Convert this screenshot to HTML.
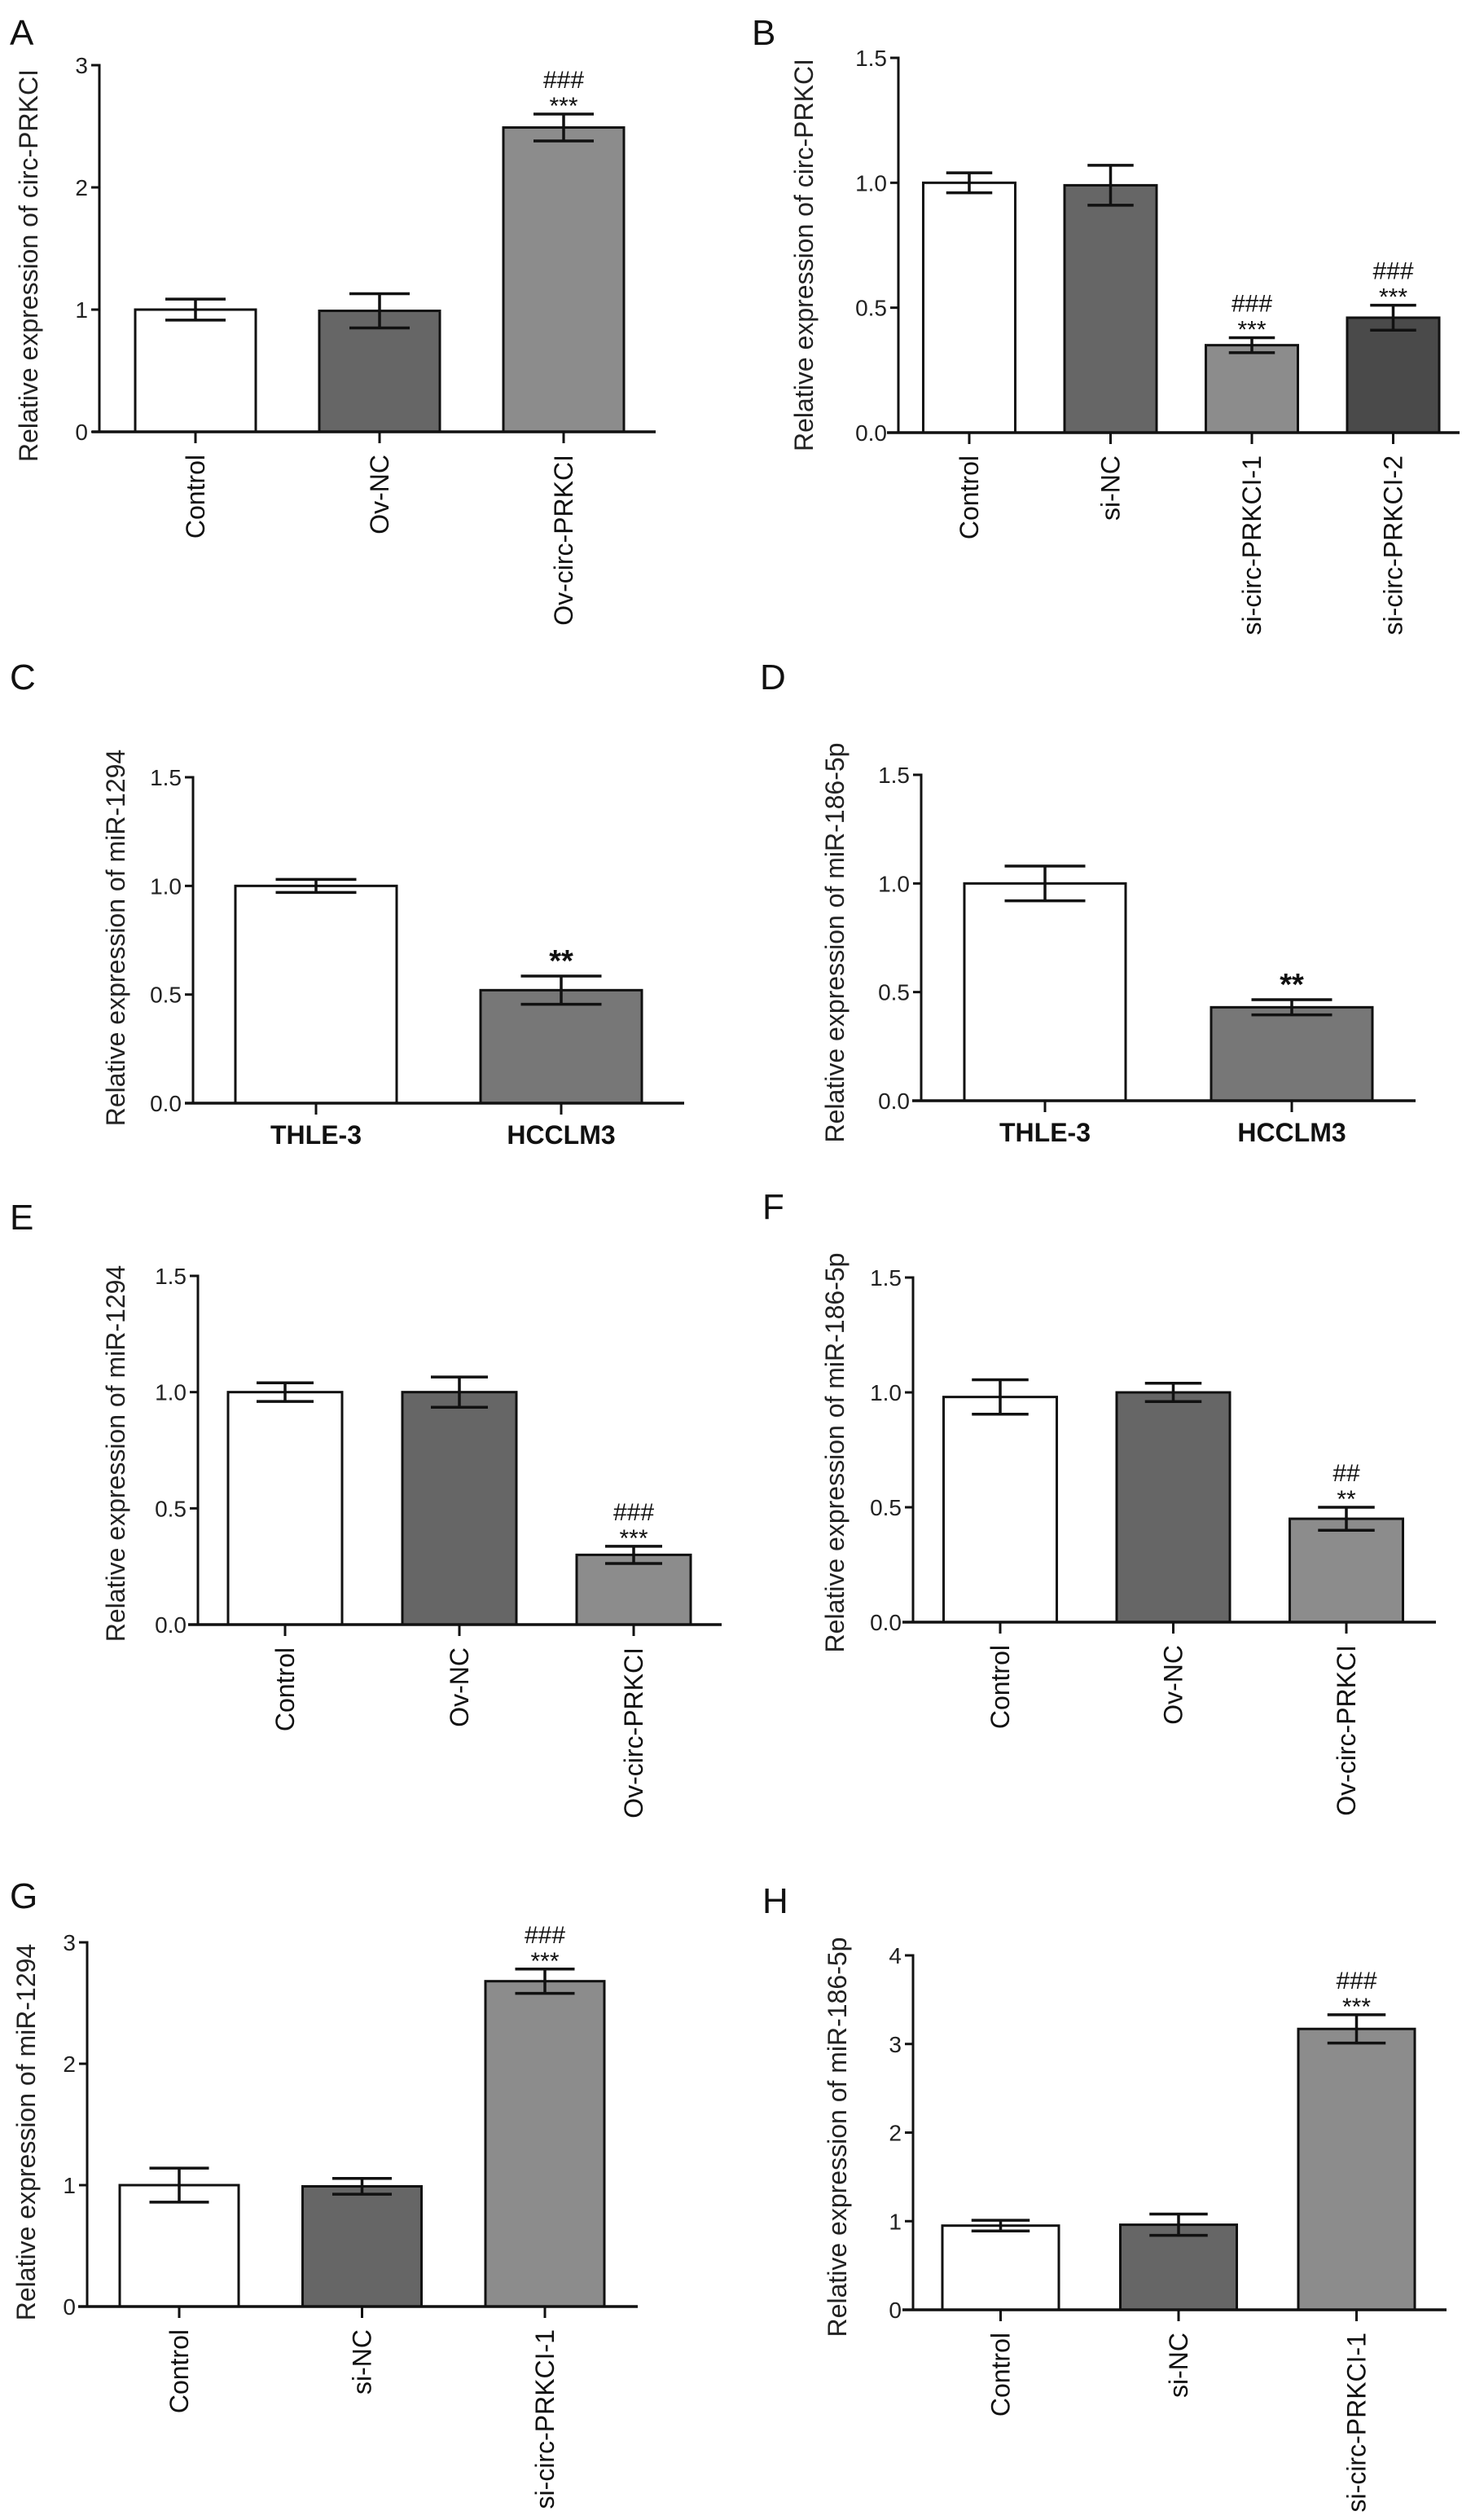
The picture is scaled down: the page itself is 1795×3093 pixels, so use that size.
<!DOCTYPE html>
<html><head><meta charset="utf-8">
<style>
html,body{margin:0;padding:0;background:#fff;}
svg{display:block;font-family:"Liberation Sans",Arial,sans-serif;}
</style></head>
<body>
<svg id="fig" width="1795" height="3093" viewBox="0 0 1795 3093" xmlns="http://www.w3.org/2000/svg">
<rect width="1795" height="3093" fill="#fff"/>
</svg>
<script>
// ---- data arrays ----
const catsA = ["Control","Ov-NC","Ov-circ-PRKCI"];
const valsA = [1.0, 0.99, 2.49];
const errsA = [0.086, 0.14, 0.11];
const annA = [[], [], ["***","###"]];
const ticksA = [0,1,2,3];
const tickLabelsA = ["0","1","2","3"];

const catsB = ["Control","si-NC","si-circ-PRKCI-1","si-circ-PRKCI-2"];
const valsB = [1.0, 0.99, 0.35, 0.46];
const errsB = [0.04, 0.08, 0.03, 0.05];
const annB = [[], [], ["***","###"], ["***","###"]];
const ticksB = [0,0.5,1.0,1.5];
const tickLabelsB = ["0.0","0.5","1.0","1.5"];

const catsC = ["THLE-3","HCCLM3"];
const valsC = [1.0, 0.52];
const errsC = [0.03, 0.065];
const annC = [[], ["**"]];

const catsD = ["THLE-3","HCCLM3"];
const valsD = [1.0, 0.43];
const errsD = [0.08, 0.035];
const annD = [[], ["**"]];
const ticksCD = [0,0.5,1.0,1.5];
const tickLabelsCD = ["0.0","0.5","1.0","1.5"];

const catsE = ["Control","Ov-NC","Ov-circ-PRKCI"];
const valsE = [1.0, 1.0, 0.30];
const errsE = [0.04, 0.065, 0.037];
const annE = [[], [], ["***","###"]];

const catsF = ["Control","Ov-NC","Ov-circ-PRKCI"];
const valsF = [0.98, 1.0, 0.45];
const errsF = [0.075, 0.04, 0.05];
const annF = [[], [], ["**","##"]];

const catsG = ["Control","si-NC","si-circ-PRKCI-1"];
const valsG = [1.0, 0.99, 2.68];
const errsG = [0.14, 0.065, 0.1];
const annG = [[], [], ["***","###"]];
const ticksG = [0,1,2,3];
const tickLabelsG = ["0","1","2","3"];

const catsH = ["Control","si-NC","si-circ-PRKCI-1"];
const valsH = [0.95, 0.96, 3.17];
const errsH = [0.06, 0.12, 0.16];
const annH = [[], [], ["***","###"]];
const ticksH = [0,1,2,3,4];
const tickLabelsH = ["0","1","2","3","4"];

const colors3 = ["#ffffff","#666666","#8c8c8c"];
const colors4 = ["#ffffff","#666666","#8c8c8c","#4a4a4a"];
const colors2 = ["#ffffff","#777777"];

const NS = "http://www.w3.org/2000/svg";
const svg = document.getElementById("fig");
function mk(tag, attrs, parent, text){
  const e = document.createElementNS(NS, tag);
  for (const k in attrs) e.setAttribute(k, attrs[k]);
  if (text !== undefined) e.textContent = text;
  parent.appendChild(e);
  return e;
}

function panel(p){
  const g = mk("g", {}, svg);
  
  
  const yMax = p.ticks[p.ticks.length-1];
  const y = v => p.y0 - (v / yMax) * (p.y0 - p.yTop);
  const x = i => p.firstX + i * p.step;

  const letter = mk("text", {x:p.lx, y:p.ly, "font-size":44, fill:"#111"}, g, p.id);
  
  

  p.cats.forEach((c, i) => {
    const top = y(p.vals[i]);
    const r = mk("rect", {x:x(i)-p.bw/2, y:top, width:p.bw, height:p.y0-top, fill:p.colors[i], stroke:"#111", "stroke-width":3}, g);
    
    
    const eTop = y(p.vals[i] + p.errs[i]), eBot = y(p.vals[i] - p.errs[i]);
    const cw = p.bw * 0.5;
    const eb = mk("path", {d:`M${x(i)},${eTop}V${eBot}M${x(i)-cw/2},${eTop}H${x(i)+cw/2}M${x(i)-cw/2},${eBot}H${x(i)+cw/2}`, stroke:"#111", "stroke-width":3.5, fill:"none"}, g);
    
    
    const ann = p.ann[i];
    ann.forEach((s, k) => {
      const bold = (p.boldStars && s.indexOf("*") === 0);
      const off = bold ? 14 : (k === 0 ? 8 : 32);
      const fs = bold ? 38 : 30;
      const t = mk("text", {x:x(i), y:eTop - off + (s.indexOf("*")===0 ? 8 : 0), "text-anchor":"middle", "font-size":fs, "font-weight":bold?"bold":"normal", fill:"#111"}, g, s);
      
      
    });
    const tk = mk("line", {x1:x(i), x2:x(i), y1:p.y0, y2:p.y0+14, stroke:"#111", "stroke-width":3}, g);
    
    
    let lab;
    if (p.horizLabels){
      lab = mk("text", {x:x(i), y:p.y0+50, "text-anchor":"middle", "font-size":32, "font-weight":"bold", fill:"#111"}, g, c);
    } else {
      lab = mk("text", {x:0, y:0, "text-anchor":"end", "font-size":32, fill:"#111", transform:`translate(${x(i)+11},${p.y0+28}) rotate(-90)`}, g, c);
    }
    
    
  });

  const ya = mk("line", {x1:p.ax, x2:p.ax, y1:p.yTop-1.5, y2:p.y0, stroke:"#111", "stroke-width":3}, g);
  
  
  const xa = mk("line", {x1:p.xStart, x2:p.xEnd, y1:p.y0, y2:p.y0, stroke:"#111", "stroke-width":3.5}, g);
  
  
  p.ticks.forEach((tv, k) => {
    const tl = mk("line", {x1:p.ax-10, x2:p.ax, y1:y(tv), y2:y(tv), stroke:"#111", "stroke-width":3}, g);
    
    
    const tt = mk("text", {x:p.ax-14, y:y(tv)+10, "text-anchor":"end", "font-size":28, fill:"#222"}, g, p.tickLabels[k]);
    
    
  });
  const yl = mk("text", {x:0, y:0, "text-anchor":"middle", "font-size":32, fill:"#222", transform:`translate(${p.ylx+11},${p.yly}) rotate(-90)`}, g, p.ylabel);
  
  
}

panel({id:"A", cats:catsA, vals:valsA, errs:errsA, ann:annA, ticks:ticksA, tickLabels:tickLabelsA, colors:colors3,
  lx:12, ly:55, ax:122, yTop:80, y0:530, xStart:113, xEnd:805, firstX:240, step:226, bw:148,
  ylabel:"Relative expression of circ-PRKCI", ylx:35, yly:326});
panel({id:"B", cats:catsB, vals:valsB, errs:errsB, ann:annB, ticks:ticksB, tickLabels:tickLabelsB, colors:colors4,
  lx:923, ly:55, ax:1103, yTop:71, y0:531, xStart:1089, xEnd:1792, firstX:1190, step:173.5, bw:113,
  ylabel:"Relative expression of circ-PRKCI", ylx:987, yly:313});
panel({id:"C", cats:catsC, vals:valsC, errs:errsC, ann:annC, ticks:ticksCD, tickLabels:tickLabelsCD, colors:colors2,
  lx:12, ly:846, ax:237, yTop:954, y0:1354, xStart:227, xEnd:840, firstX:388, step:301, bw:198, horizLabels:true, boldStars:true,
  ylabel:"Relative expression of miR-1294", ylx:142, yly:1151});
panel({id:"D", cats:catsD, vals:valsD, errs:errsD, ann:annD, ticks:ticksCD, tickLabels:tickLabelsCD, colors:colors2,
  lx:933, ly:846, ax:1131, yTop:951, y0:1351, xStart:1120, xEnd:1738, firstX:1283, step:303, bw:198, horizLabels:true, boldStars:true,
  ylabel:"Relative expression of miR-186-5p", ylx:1025, yly:1157});
panel({id:"E", cats:catsE, vals:valsE, errs:errsE, ann:annE, ticks:ticksCD, tickLabels:tickLabelsCD, colors:colors3,
  lx:12, ly:1509, ax:243, yTop:1566, y0:1994, xStart:231, xEnd:886, firstX:350, step:214, bw:140,
  ylabel:"Relative expression of miR-1294", ylx:142, yly:1784});
panel({id:"F", cats:catsF, vals:valsF, errs:errsF, ann:annF, ticks:ticksCD, tickLabels:tickLabelsCD, colors:colors3,
  lx:936, ly:1496, ax:1121, yTop:1568, y0:1991, xStart:1108, xEnd:1763, firstX:1228, step:212.5, bw:139,
  ylabel:"Relative expression of miR-186-5p", ylx:1025, yly:1783});
panel({id:"G", cats:catsG, vals:valsG, errs:errsG, ann:annG, ticks:ticksG, tickLabels:tickLabelsG, colors:colors3,
  lx:12, ly:2342, ax:107, yTop:2384, y0:2831, xStart:96, xEnd:783, firstX:220, step:224.5, bw:146,
  ylabel:"Relative expression of miR-1294", ylx:32, yly:2617});
panel({id:"H", cats:catsH, vals:valsH, errs:errsH, ann:annH, ticks:ticksH, tickLabels:tickLabelsH, colors:colors3,
  lx:936, ly:2348, ax:1121, yTop:2400, y0:2835, xStart:1108, xEnd:1776, firstX:1228.5, step:218.5, bw:143,
  ylabel:"Relative expression of miR-186-5p", ylx:1028, yly:2623});
</script>
</body></html>
